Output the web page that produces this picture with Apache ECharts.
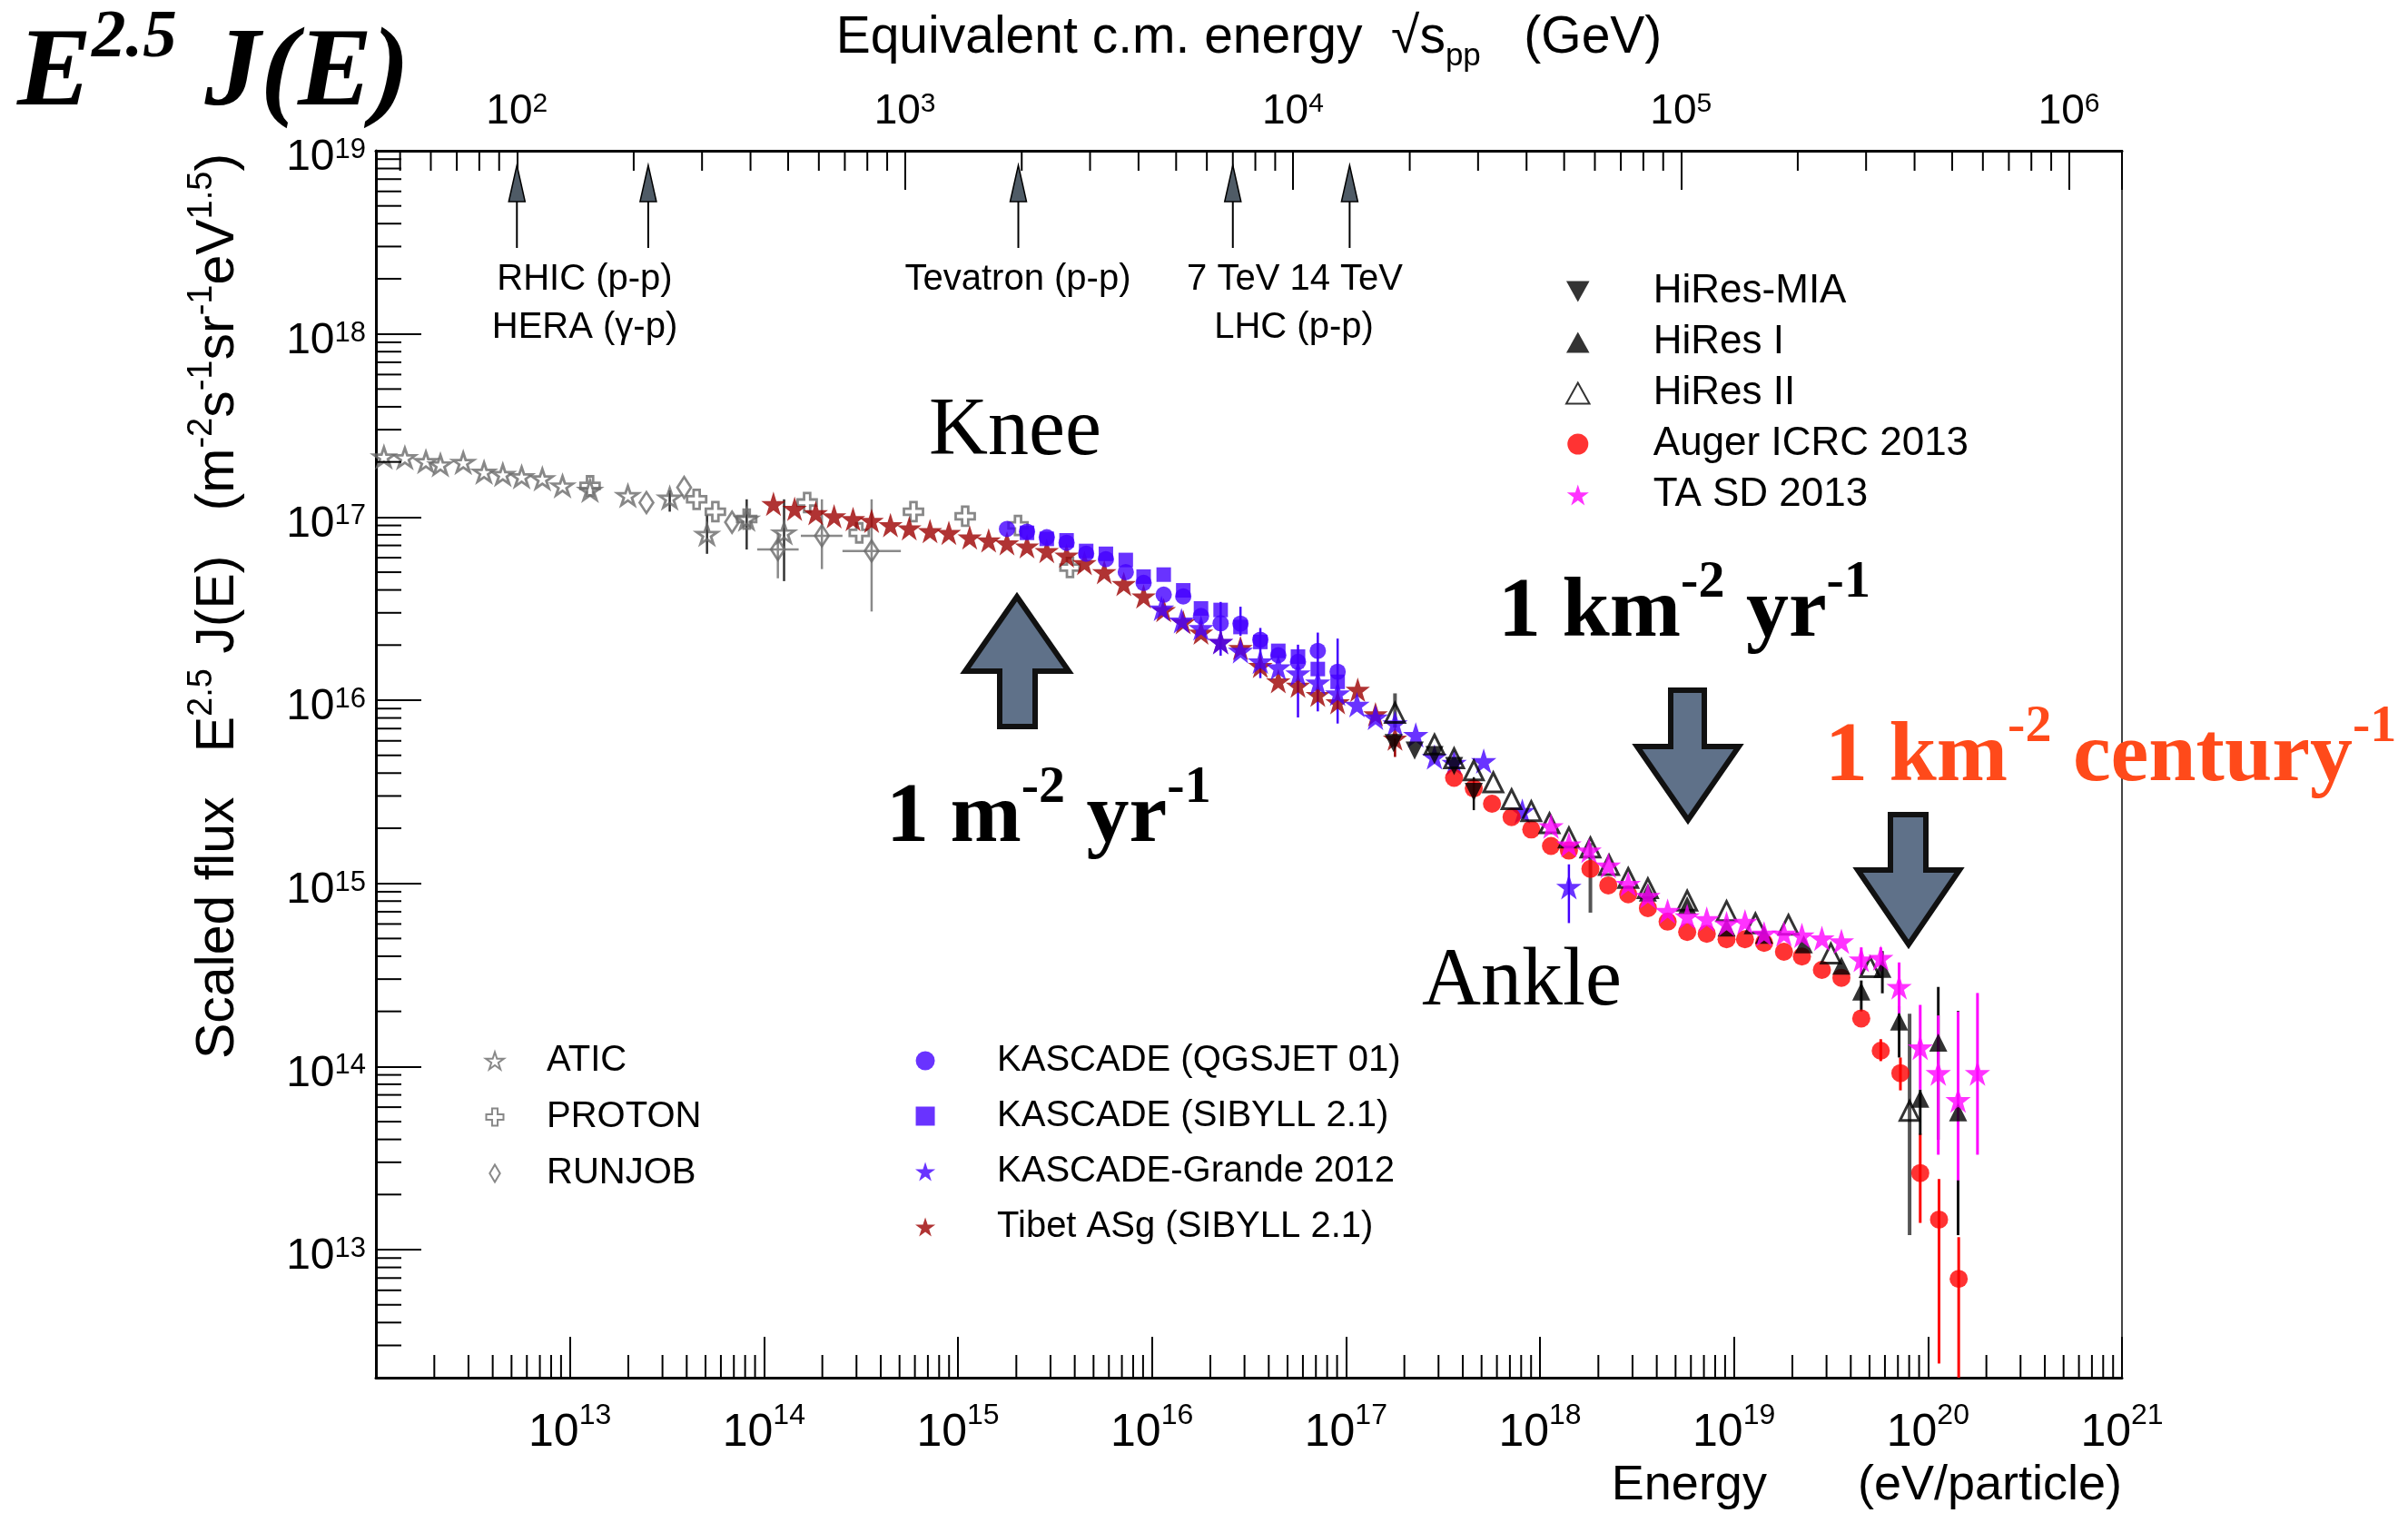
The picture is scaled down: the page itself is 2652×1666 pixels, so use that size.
<!DOCTYPE html>
<html><head><meta charset="utf-8">
<script src="https://cdn.jsdelivr.net/npm/echarts@6/dist/echarts.min.js"></script>
<style>html,body{margin:0;padding:0;background:#fff}#c{width:2652px;height:1666px}</style>
</head><body><div id="c"></div>
<script>
// ---------------- data (energy in eV, scaled flux E^2.5 J(E)) ----------------
const aticData = [[1.10e12,2.13e17],[1.41e12,2.11e17],[1.81e12,2.01e17],[2.15e12,1.93e17],[2.82e12,1.99e17],[3.61e12,1.76e17],[4.51e12,1.71e17],[5.64e12,1.66e17],[7.21e12,1.62e17],[9.16e12,1.48e17],[1.27e13,1.40e17],[1.99e13,1.31e17],[3.27e13,1.27e17],[5.09e13,8.05e16],[8.15e13,9.75e16],[1.27e14,8.20e16]];
const aticErr = [[3.27e13,1.07e17,1.40e17],[5.09e13,6.30e16,1.03e17],[8.15e13,6.65e16,1.25e17],[1.27e14,4.47e16,1.25e17]];
const protonData = [[1.27e13,1.48e17],[4.50e13,1.25e17],[5.62e13,1.07e17],[8.15e13,9.75e16],[1.67e14,1.20e17],[3.10e14,8.20e16],[5.90e14,1.07e17],[1.09e15,1.01e17],[2.04e15,9.0e16],[3.78e15,5.30e16]];
const runjobData = [[2.48e13,1.20e17],[3.88e13,1.45e17],[6.85e13,9.37e16],[1.18e14,6.65e16],[1.99e14,7.91e16],[3.59e14,6.53e16]];
// [E, flux, fluxLo, fluxHi, ELo, EHi]
const runjobErr = [[1.18e14,6.65e16,4.63e16,8.20e16,9.23e13,1.51e14],[1.99e14,7.91e16,5.20e16,1.25e17,1.55e14,2.54e14],[3.59e14,6.53e16,3.05e16,1.25e17,2.54e14,5.08e14]];
const tibetData = [[1.12e14,1.18e17],[1.44e14,1.11e17],[1.85e14,1.05e17],[2.30e14,1.01e17],[2.88e14,9.75e16],[3.59e14,9.55e16],[4.49e14,9.04e16],[5.61e14,8.69e16],[7.18e14,8.38e16],[8.98e14,8.20e16],[1.15e15,7.74e16],[1.44e15,7.46e16],[1.79e15,7.19e16],[2.27e15,6.92e16],[2.87e15,6.53e16],[3.63e15,6.17e16],[4.49e15,5.61e16],[5.68e15,5.01e16],[7.16e15,4.31e16],[9.06e15,3.69e16],[1.15e16,3.11e16],[1.45e16,2.67e16],[1.79e16,2.34e16],[2.26e16,2.08e16],[2.86e16,1.93e16],[3.62e16,1.54e16],[4.48e16,1.27e16],[5.66e16,1.20e16],[7.16e16,1.07e16],[9.06e16,9.75e15],[1.15e17,1.14e16],[1.42e17,8.38e15],[1.79e17,6.17e15]];
const tibetErr = [[1.79e17,4.90e15,6.17e15]];
const kascadeQData = [[1.79e15,8.61e16],[2.27e15,8.32e16],[2.87e15,7.76e16],[3.63e15,7.24e16],[4.58e15,6.31e16],[5.79e15,5.89e16],[7.33e15,5.01e16],[9.06e15,4.37e16],[1.15e16,3.77e16],[1.45e16,3.69e16],[1.79e16,2.88e16],[2.26e16,2.63e16],[2.86e16,2.62e16],[3.62e16,2.14e16],[4.48e16,1.76e16],[5.66e16,1.62e16],[7.16e16,1.86e16],[9.06e16,1.43e16]];
const kascadeQErr = [[2.86e16,2.25e16,3.24e16],[7.16e16,8.69e15,2.34e16],[9.06e16,7.46e15,2.17e16]];
const kascadeSData = [[2.27e15,8.20e16],[2.87e15,7.60e16],[3.63e15,7.46e16],[4.58e15,6.53e16],[5.79e15,6.30e16],[7.33e15,5.83e16],[9.06e15,4.73e16],[1.15e16,4.85e16],[1.45e16,3.98e16],[1.79e16,3.17e16],[2.26e16,3.11e16],[2.86e16,2.51e16],[3.62e16,2.08e16],[4.48e16,1.86e16],[5.66e16,1.73e16],[7.16e16,1.48e16],[9.06e16,1.26e16]];
const kascadeSErr = [[2.26e16,1.75e16,3.44e16],[3.62e16,1.32e16,2.48e16],[5.66e16,8.05e15,2.01e16]];
const kgData = [[1.12e16,3.17e16],[1.42e16,2.72e16],[1.79e16,2.48e16],[2.26e16,2.08e16],[2.86e16,1.86e16],[3.62e16,1.63e16],[4.48e16,1.51e16],[5.66e16,1.40e16],[7.16e16,1.25e16],[9.06e16,1.09e16],[1.14e17,9.44e15],[1.42e17,8.05e15],[1.79e17,7.46e15],[2.29e17,6.46e15],[2.86e17,4.90e15],[3.61e17,4.55e15],[5.13e17,4.65e15],[8.11e17,2.48e15],[1.41e18,9.57e14]];
const kgErr = [[1.41e18,6.07e14,1.27e15]];
const hiresMiaData = [[1.76e17,5.83e15],[2.26e17,5.30e15],[2.86e17,5.01e15],[3.61e17,4.37e15],[4.56e17,3.16e15]];
const hiresMiaErr = [[4.56e17,2.51e15,3.80e15]];
const hires1Data = [[3.60e18,8.91e14],[5.74e18,7.59e14],[9.16e18,5.75e14],[1.43e19,5.25e14],[2.29e19,4.65e14],[3.58e19,3.56e14],[4.53e19,2.57e14],[5.82e19,3.42e14],[7.10e19,1.76e14],[9.12e19,6.67e13],[1.13e20,1.35e14],[1.43e20,5.62e13]];
const hires1Err = [[4.53e19,2.00e14,2.95e14],[5.82e19,2.51e14,4.27e14],[7.10e19,1.12e14,2.14e14],[9.12e19,4.23e13,7.48e13],[1.13e20,3.98e13,2.72e14],[1.43e20,1.20e13,2.01e14]];
const hires2Data = [[1.79e17,8.53e15],[2.86e17,5.73e15],[3.61e17,4.82e15],[4.56e17,4.14e15],[5.75e17,3.56e15],[7.14e17,2.88e15],[9.02e17,2.48e15],[1.12e18,2.13e15],[1.41e18,1.78e15],[1.82e18,1.57e15],[2.27e18,1.26e15],[2.85e18,1.07e15],[3.60e18,9.40e14],[5.74e18,8.05e14],[9.16e18,7.06e14],[1.29e19,6.05e14],[1.91e19,5.94e14],[3.16e19,4.14e14],[5.04e19,3.49e14],[8.04e19,5.73e13]];
const hires2Err = [[1.79e17,7.08e15,1.09e16],[1.82e18,6.92e14,1.66e15],[8.04e19,1.20e13,1.94e14]];
const augerData = [[3.61e17,3.77e15],[4.56e17,3.30e15],[5.66e17,2.72e15],[7.14e17,2.30e15],[9.02e17,1.97e15],[1.14e18,1.60e15],[1.41e18,1.51e15],[1.82e18,1.20e15],[2.25e18,9.75e14],[2.85e18,8.71e14],[3.60e18,7.33e14],[4.55e18,6.18e14],[5.74e18,5.43e14],[7.24e18,5.31e14],[9.16e18,4.95e14],[1.14e19,4.95e14],[1.43e19,4.73e14],[1.81e19,4.23e14],[2.24e19,3.99e14],[2.84e19,3.37e14],[3.58e19,3.05e14],[4.53e19,1.83e14],[5.71e19,1.22e14],[7.21e19,9.20e13],[9.12e19,2.62e13],[1.14e20,1.46e13],[1.44e20,6.93e12]];
const augerErr = [[5.71e19,1.07e14,1.41e14],[7.21e19,7.41e13,1.12e14],[9.12e19,1.40e13,4.31e13],[1.14e20,2.39e12,2.43e13],[1.44e20,1.50e12,1.17e13]];
const taData = [[1.14e18,2.05e15],[1.41e18,1.63e15],[1.79e18,1.51e15],[2.25e18,1.25e15],[2.85e18,9.93e14],[3.60e18,8.53e14],[4.55e18,7.06e14],[5.74e18,6.61e14],[7.24e18,6.38e14],[9.16e18,6.03e14],[1.14e19,6.17e14],[1.43e19,5.31e14],[1.81e19,5.31e14],[2.24e19,5.20e14],[2.84e19,5.01e14],[3.58e19,4.82e14],[4.53e19,3.84e14],[5.71e19,3.91e14],[7.10e19,2.72e14],[9.12e19,1.27e14],[1.13e20,9.20e13],[1.43e20,6.55e13],[1.80e20,9.20e13]];
const taErr = [[4.53e19,3.17e14,4.47e14],[5.71e19,3.31e14,4.47e14],[7.10e19,1.94e14,3.70e14],[9.12e19,7.48e13,2.17e14],[1.13e20,3.30e13,1.90e14],[1.43e20,2.39e13,1.99e14],[1.80e20,3.30e13,2.52e14]];

// accelerator equivalent c.m. energies (GeV) on the top axis
const accelNames = ['RHIC','HERA','Tevatron','LHC 7 TeV','LHC 14 TeV'];
const accelSqrtS = [100, 218, 1960, 7000, 14000];

// axis ranges
const X_MIN = 1e12, X_MAX = 1e21, Y_MIN = 2e12, Y_MAX = 1e19;
const MP_EV = 0.938e9;
const toSqrtS = E => Math.sqrt(2 * MP_EV * E) / 1e9;
const TOP_MIN = toSqrtS(X_MIN), TOP_MAX = toSqrtS(X_MAX);
const minorMult = [2,3,4,5,6,7,8,9];
const xDecades = [12,13,14,15,16,17,18,19,20];
const yDecades = [12,13,14,15,16,17,18];
const topDecades = [1,2,3,4,5];

const SANS = '"Liberation Sans", Arial, Helvetica, sans-serif';
const SERIF = '"Liberation Serif", "Times New Roman", serif';
const STAR = 'path://M50,0L61.2,34.5L97.6,34.5L68.2,55.9L79.4,90.5L50,69.1L20.6,90.5L31.8,55.9L2.4,34.5L38.8,34.5Z';
const PLUS = 'path://M34,0H66V34H100V66H66V100H34V66H0V34H34Z';
const TRI_UP = 'path://M50,0L100,90L0,90Z';
const TRI_DOWN = 'path://M0,0L100,0L50,90Z';
const SQUARE = 'path://M0,0H100V100H0Z';
const DIAMOND = 'path://M30,0L60,50L30,100L0,50Z';

const xMinorTicks = [], yMinorTicks = [], topMinorTicks = [];
xDecades.forEach(d => minorMult.forEach(k => xMinorTicks.push(k * Math.pow(10, d))));
yDecades.forEach(d => minorMult.forEach(k => { const v = k * Math.pow(10, d); if (v > Y_MIN * 1.001) yMinorTicks.push(v); }));
topDecades.forEach(d => minorMult.forEach(k => { const v = k * Math.pow(10, d); if (v > TOP_MIN && v < TOP_MAX) topMinorTicks.push(v); }));

function powFmt(hide) {
  return function (v) {
    const e = Math.log10(v), r = Math.round(e);
    if (Math.abs(e - r) > 1e-6 || (hide && hide.indexOf(r) >= 0)) return '';
    return '{b|10}{s|' + r + '}';
  };
}

function tickSeries(values, where, len) {
  return {
    type: 'custom', silent: true, z: 3, clip: false,
    xAxisIndex: where === 'top' ? 1 : 0, yAxisIndex: 0,
    data: values.map(v => where === 'left' ? [X_MIN, v] : where === 'top' ? [v, Y_MAX] : [v, Y_MIN]),
    renderItem: (p, api) => {
      const pt = api.coord([api.value(0), api.value(1)]);
      let s;
      if (where === 'left') s = {x1: pt[0], y1: pt[1], x2: pt[0] + len, y2: pt[1]};
      else if (where === 'top') s = {x1: pt[0], y1: pt[1], x2: pt[0], y2: pt[1] + len};
      else s = {x1: pt[0], y1: pt[1], x2: pt[0], y2: pt[1] - len};
      return {type: 'line', shape: s, style: {stroke: '#000', lineWidth: 2}};
    }
  };
}

function errSeries(rows, color, width) {
  return {
    type: 'custom', silent: true, z: 1, clip: true, data: rows,
    renderItem: (p, api) => {
      const x = api.value(0);
      const a = api.coord([x, api.value(1)]), b = api.coord([x, api.value(2)]);
      return {type: 'line', shape: {x1: a[0], y1: a[1], x2: b[0], y2: b[1]}, style: {stroke: color, lineWidth: width}};
    }
  };
}

function errSeriesXY(rows, color, width) {
  return {
    type: 'custom', silent: true, z: 1, clip: true, data: rows,
    renderItem: (p, api) => {
      const x = api.value(0), y = api.value(1);
      const a = api.coord([x, api.value(2)]), b = api.coord([x, api.value(3)]);
      const c = api.coord([api.value(4), y]), d = api.coord([api.value(5), y]);
      return {type: 'group', children: [
        {type: 'line', shape: {x1: a[0], y1: a[1], x2: b[0], y2: b[1]}, style: {stroke: color, lineWidth: width}},
        {type: 'line', shape: {x1: c[0], y1: c[1], x2: d[0], y2: d[1]}, style: {stroke: color, lineWidth: width}}
      ]};
    }
  };
}

function pts(name, data, symbol, size, color, opt) {
  opt = opt || {};
  return {
    name: name, type: 'scatter', data: data, symbol: symbol, symbolSize: size, z: 2,
    itemStyle: opt.hollow ? {color: 'rgba(255,255,255,0)', borderColor: color, borderWidth: opt.bw || 2.5}
                          : {color: color, borderWidth: 0},
    emphasis: {disabled: true}
  };
}

const accelSeries = {
  type: 'custom', silent: true, z: 4, clip: false, xAxisIndex: 1, yAxisIndex: 0,
  data: accelSqrtS.map((v, i) => [v, Y_MAX, i]),
  renderItem: (p, api) => {
    const pt = api.coord([api.value(0), api.value(1)]);
    const x = pt[0], t = pt[1];
    return {type: 'group', children: [
      {type: 'line', shape: {x1: x, y1: t + 54, x2: x, y2: t + 107}, style: {stroke: '#000', lineWidth: 2}},
      {type: 'polygon', shape: {points: [[x - 9, t + 56], [x, t + 16], [x + 9, t + 56]]}, style: {fill: '#4f5b66', stroke: '#000', lineWidth: 1.5}}
    ]};
  }
};

const labRichX = {b: {fontSize: 50, lineHeight: 60, verticalAlign: 'bottom', fontFamily: SANS, color: '#000'},
                  s: {fontSize: 32, lineHeight: 28, verticalAlign: 'top', fontFamily: SANS, color: '#000'}};
const labRichTop = {b: {fontSize: 46, lineHeight: 46, verticalAlign: 'bottom', fontFamily: SANS, color: '#000'},
                    s: {fontSize: 30, lineHeight: 13, verticalAlign: 'top', fontFamily: SANS, color: '#000'}};
const labRichY = {b: {fontSize: 48, lineHeight: 48, verticalAlign: 'bottom', fontFamily: SANS, color: '#000'},
                  s: {fontSize: 31, lineHeight: 12, verticalAlign: 'top', fontFamily: SANS, color: '#000'}};

const axisLine = {show: true, lineStyle: {color: '#000', width: 3}};
const legendText = size => ({fontSize: size, fontFamily: SANS, color: '#000'});

const option = {
  animation: false,
  backgroundColor: '#fff',
  grid: {left: 414, top: 166, width: 1923, height: 1351, show: true, borderColor: '#444', borderWidth: 2, backgroundColor: 'rgba(0,0,0,0)'},
  xAxis: [
    {
      type: 'log', logBase: 10, min: X_MIN, max: X_MAX, position: 'bottom',
      axisLine: axisLine,
      axisTick: {show: true, inside: true, length: 45, lineStyle: {color: '#000', width: 2}},
      axisLabel: {formatter: powFmt([12]), margin: 26, rich: labRichX},
      splitLine: {show: false}, minorTick: {show: false},
      name: '{a|Energy}{g| }{a|(eV/particle)}', nameLocation: 'end', nameGap: 0,
      nameTextStyle: {align: 'right', verticalAlign: 'top', padding: [88, 0, 0, 0],
        rich: {a: {fontSize: 54, lineHeight: 62, fontFamily: SANS, color: '#000'}, g: {width: 100, fontSize: 54, lineHeight: 62}}}
    },
    {
      type: 'log', logBase: 10, min: TOP_MIN, max: TOP_MAX, position: 'top',
      axisLine: axisLine,
      axisTick: {show: true, inside: true, length: 43, lineStyle: {color: '#000', width: 2}},
      axisLabel: {formatter: powFmt([]), margin: 20, rich: labRichTop},
      splitLine: {show: false}, minorTick: {show: false},
      name: '{a|Equivalent c.m. energy  \u221As}{u|pp}{a|   (GeV)}', nameLocation: 'middle', nameGap: 86,
      nameTextStyle: {rich: {a: {fontSize: 57, lineHeight: 66, verticalAlign: 'top', fontFamily: SANS, color: '#000'},
                             u: {fontSize: 35, lineHeight: 26, verticalAlign: 'bottom', fontFamily: SANS, color: '#000'}}}
    }
  ],
  yAxis: {
    type: 'log', logBase: 10, min: Y_MIN, max: Y_MAX,
    axisLine: axisLine,
    axisTick: {show: true, inside: true, length: 50, lineStyle: {color: '#000', width: 2}},
    axisLabel: {formatter: powFmt([]), margin: 11, padding: [16, 0, 0, 0], rich: labRichY},
    splitLine: {show: false}, minorTick: {show: false},
    name: '{a|Scaled flux   E}{s|2.5}{a| J(E)   (m}{s|-2}{a|s}{s|-1}{a|sr}{s|-1}{a|eV}{s|1.5}{a|)}',
    nameLocation: 'middle', nameRotate: 90, nameGap: 144,
    nameTextStyle: {padding: [0, 0, 0, 348],
      rich: {a: {fontSize: 59, lineHeight: 66, verticalAlign: 'bottom', fontFamily: SANS, color: '#000'},
             s: {fontSize: 38, lineHeight: 30, verticalAlign: 'top', fontFamily: SANS, color: '#000'}}}
  },
  legend: [
    {data: [{name: 'ATIC', icon: STAR}, {name: 'PROTON', icon: PLUS}, {name: 'RUNJOB', icon: DIAMOND}],
     orient: 'vertical', left: 529, top: 1143, itemWidth: 104, itemHeight: 19, itemGap: 22,
     textStyle: legendText(40), selectedMode: false},
    {data: [{name: 'KASCADE (QGSJET 01)', icon: 'circle'}, {name: 'KASCADE (SIBYLL 2.1)', icon: SQUARE},
            {name: 'KASCADE-Grande 2012', icon: STAR}, {name: 'Tibet ASg (SIBYLL 2.1)', icon: STAR}],
     orient: 'vertical', left: 1003, top: 1143, itemWidth: 148, itemHeight: 21, itemGap: 21,
     textStyle: legendText(40), selectedMode: false},
    {data: [{name: 'HiRes-MIA', icon: TRI_DOWN}, {name: 'HiRes I', icon: TRI_UP}, {name: 'HiRes II', icon: TRI_UP},
            {name: 'Auger ICRC 2013', icon: 'circle'}, {name: 'TA SD 2013', icon: STAR}],
     orient: 'vertical', left: 1719, top: 294, itemWidth: 156, itemHeight: 23, itemGap: 12,
     textStyle: legendText(44), selectedMode: false}
  ],
  series: [
    tickSeries(xMinorTicks, 'bottom', 25),
    tickSeries(yMinorTicks, 'left', 28),
    tickSeries(topMinorTicks, 'top', 22),
    accelSeries,
    errSeries(aticErr, '#333', 2.5),
    errSeriesXY(runjobErr, '#8a8a8a', 2.5),
    errSeries(tibetErr, '#990000', 2.5),
    errSeries(kascadeQErr, '#4400ff', 2.5),
    errSeries(kascadeSErr, '#4400ff', 2.5),
    errSeries(kgErr, '#4400ff', 2.5),
    errSeries(augerErr, '#ff0000', 3),
    errSeries(hiresMiaErr, '#111', 2.5),
    errSeries(hires1Err, '#111', 3),
    errSeries(hires2Err, '#555', 4),
    errSeries(taErr, '#ff00ff', 3),
    pts('ATIC', aticData, STAR, [23, 21], '#6a6a6a', {hollow: true, bw: 2.8}),
    pts('PROTON', protonData, PLUS, 21, '#6a6a6a', {hollow: true, bw: 2.8}),
    pts('RUNJOB', runjobData, DIAMOND, [15, 23], '#6a6a6a', {hollow: true, bw: 2.8}),
    pts('Tibet ASg (SIBYLL 2.1)', tibetData, STAR, 27, '#9c0000'),
    pts('KASCADE (QGSJET 01)', kascadeQData, 'circle', 18, '#4400ff'),
    pts('KASCADE (SIBYLL 2.1)', kascadeSData, SQUARE, 16, '#4400ff'),
    pts('KASCADE-Grande 2012', kgData, STAR, 28, '#4400ff'),
    pts('Auger ICRC 2013', augerData, 'circle', 20, '#ff0000'),
    pts('HiRes-MIA', hiresMiaData, TRI_DOWN, 20, '#000'),
    pts('HiRes I', hires1Data, TRI_UP, 20, '#000'),
    pts('HiRes II', hires2Data, TRI_UP, 21, '#000', {hollow: true, bw: 3}),
    pts('TA SD 2013', taData, STAR, 28, '#ff00ff')
  ],
  graphic: [
    {type: 'text', x: 19, y: 5, z: 10, style: {text: '{a|E}{s|2.5}{a| J(E)}', align: 'left', verticalAlign: 'top',
      rich: {a: {fontSize: 123, lineHeight: 140, verticalAlign: 'bottom', fontFamily: SERIF, fontStyle: 'italic', fontWeight: 'bold', fill: '#000'},
             s: {fontSize: 75, lineHeight: 86, verticalAlign: 'top', fontFamily: SERIF, fontStyle: 'italic', fontWeight: 'bold', fill: '#000'}}}},
    {type: 'text', x: 1023, y: 431, z: 10, style: {text: 'Knee', font: '90px ' + SERIF, lineHeight: 90, fill: '#000', align: 'left', verticalAlign: 'top'}},
    {type: 'text', x: 1566, y: 1037, z: 10, style: {text: 'Ankle', font: '90px ' + SERIF, lineHeight: 90, fill: '#000', align: 'left', verticalAlign: 'top'}},
    {type: 'text', x: 976, y: 839, z: 10, style: {text: '{a|1 m}{s|-2}{a| yr}{s|-1}', align: 'left', verticalAlign: 'top',
      rich: {a: {fontSize: 94, lineHeight: 110, verticalAlign: 'bottom', fontFamily: SERIF, fontWeight: 'bold', fill: '#000'},
             s: {fontSize: 58, lineHeight: 77, verticalAlign: 'top', fontFamily: SERIF, fontWeight: 'bold', fill: '#000'}}}},
    {type: 'text', x: 1650, y: 613, z: 10, style: {text: '{a|1 km}{s|-2}{a| yr}{s|-1}', align: 'left', verticalAlign: 'top',
      rich: {a: {fontSize: 94, lineHeight: 110, verticalAlign: 'bottom', fontFamily: SERIF, fontWeight: 'bold', fill: '#000'},
             s: {fontSize: 58, lineHeight: 77, verticalAlign: 'top', fontFamily: SERIF, fontWeight: 'bold', fill: '#000'}}}},
    {type: 'text', x: 2010, y: 772, z: 10, style: {text: '{a|1 km}{s|-2}{a| century}{s|-1}', align: 'left', verticalAlign: 'top',
      rich: {a: {fontSize: 94, lineHeight: 110, verticalAlign: 'bottom', fontFamily: SERIF, fontWeight: 'bold', fill: '#ff4a1a'},
             s: {fontSize: 58, lineHeight: 77, verticalAlign: 'top', fontFamily: SERIF, fontWeight: 'bold', fill: '#ff4a1a'}}}},
    {type: 'polygon', z: 9, shape: {points: [[1120,657],[1177,739],[1140,739],[1140,800],[1101,800],[1101,739],[1063,739]]},
      style: {fill: '#5f7189', stroke: '#111', lineWidth: 6, lineJoin: 'miter'}},
    {type: 'polygon', z: 9, shape: {points: [[1840,760],[1877,760],[1877,822],[1915,822],[1859,903],[1803,822],[1840,822]]},
      style: {fill: '#5f7189', stroke: '#111', lineWidth: 6, lineJoin: 'miter'}},
    {type: 'polygon', z: 9, shape: {points: [[2082,897],[2121,897],[2121,958],[2158,958],[2102,1040],[2046,958],[2082,958]]},
      style: {fill: '#5f7189', stroke: '#111', lineWidth: 6, lineJoin: 'miter'}},
    {type: 'text', x: 644, y: 288, z: 10, style: {text: 'RHIC (p-p)', font: '40px ' + SANS, lineHeight: 40, fill: '#000', align: 'center', verticalAlign: 'top'}},
    {type: 'text', x: 644, y: 341, z: 10, style: {text: 'HERA (\u03B3-p)', font: '40px ' + SANS, lineHeight: 40, fill: '#000', align: 'center', verticalAlign: 'top'}},
    {type: 'text', x: 1121, y: 288, z: 10, style: {text: 'Tevatron (p-p)', font: '40px ' + SANS, lineHeight: 40, fill: '#000', align: 'center', verticalAlign: 'top'}},
    {type: 'text', x: 1426, y: 288, z: 10, style: {text: '7 TeV 14 TeV', font: '40px ' + SANS, lineHeight: 40, fill: '#000', align: 'center', verticalAlign: 'top'}},
    {type: 'text', x: 1425, y: 341, z: 10, style: {text: 'LHC (p-p)', font: '40px ' + SANS, lineHeight: 40, fill: '#000', align: 'center', verticalAlign: 'top'}}
  ]
};

const chart = echarts.init(document.getElementById('c'), null, {renderer: 'canvas', width: 2652, height: 1666});
chart.setOption(option);
</script></body></html>
